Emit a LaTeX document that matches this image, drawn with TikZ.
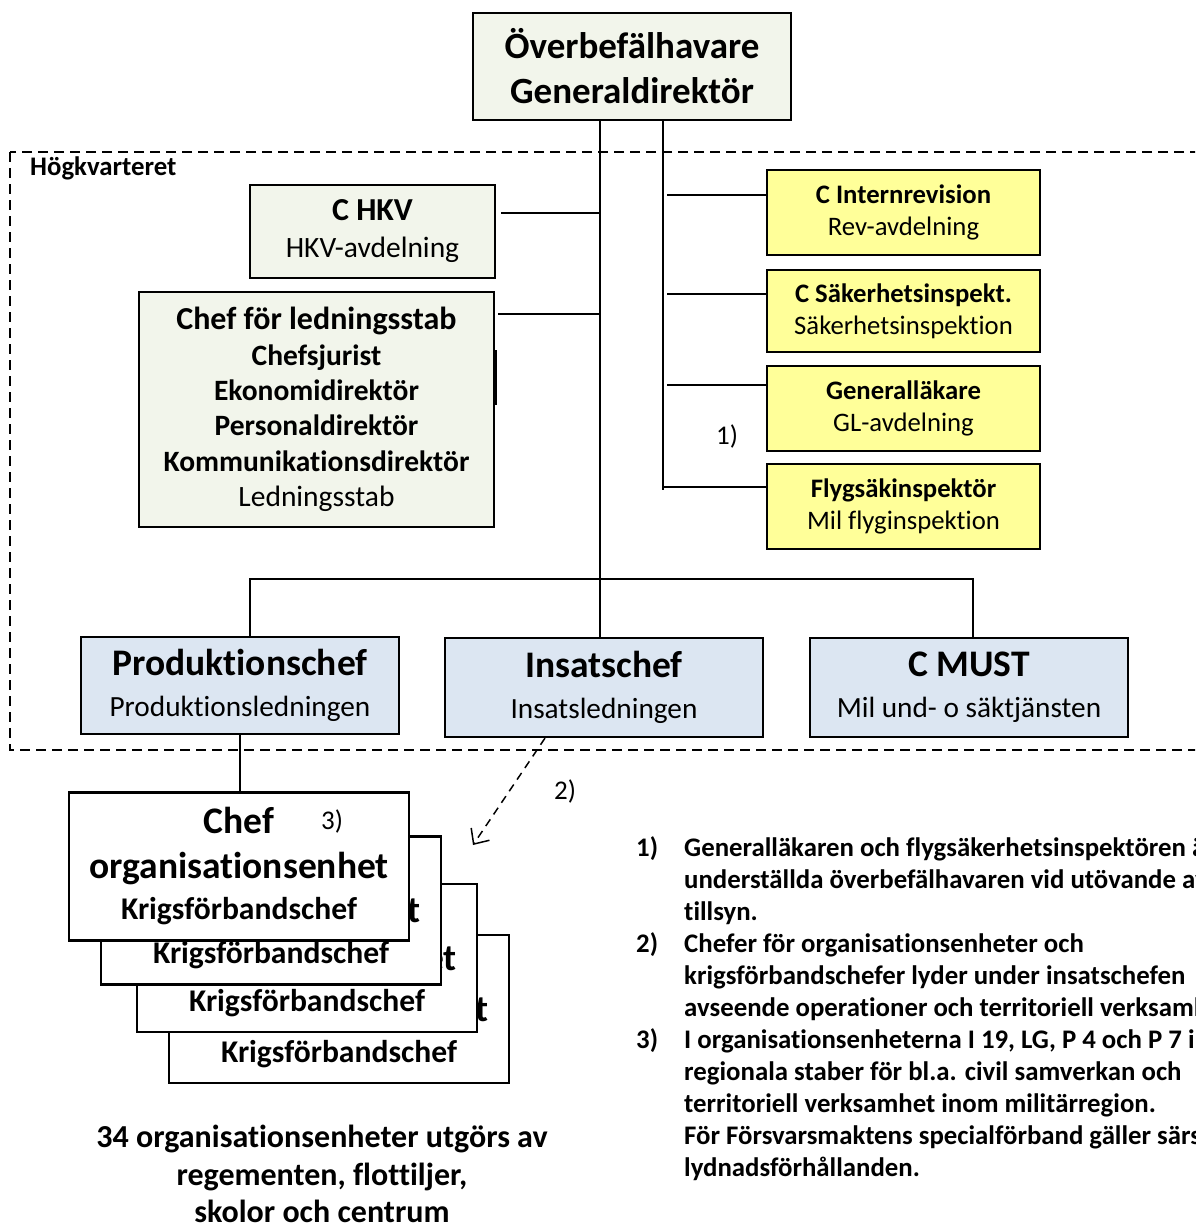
\documentclass[tikz,border=0pt]{standalone}
\usepackage{fontspec}
\setmainfont{Carlito}[Ligatures=NoCommon]
\usetikzlibrary{positioning, calc, arrows.meta}

\definecolor{hqgreen}{RGB}{242,245,235}
\definecolor{boxyellow}{RGB}{255,255,153}
\definecolor{boxblue}{RGB}{220,230,242}
\newcommand{\fsz}[2]{\fontsize{#1}{#2}\selectfont}

\tikzset{
  box/.style={draw, line width=2.2pt, align=center, inner sep=0pt},
  hqbox/.style={box, fill=hqgreen},
  ybox/.style={box, fill=boxyellow, minimum width=273pt, minimum height=85pt, font=\fsz{26.7}{32}},
  bbox/.style={box, fill=boxblue, minimum width=318pt, minimum height=99pt, font=\fsz{37.5}{41}},
  orgbox/.style={box, fill=white, minimum width=340pt, minimum height=148pt, font=\bfseries\fsz{37.5}{45}},
  conn/.style={line width=1.8pt},
  note/.style={font=\bfseries\fsz{26.8}{32}, align=left, inner sep=0pt, anchor=north west},
  fnmark/.style={font=\fsz{27}{30}},
}

\begin{document}
\begin{tikzpicture}[x=1pt,y=-1pt]
      \useasboundingbox (0,0) rectangle (1195,1224);
      \clip (0,0) rectangle (1195,1224);

      % Högkvarteret
      \draw[line width=2pt, dash pattern=on 10pt off 6pt] (10,152) rectangle (1215,750);
      \node[font=\bfseries\fsz{26.8}{30}, anchor=west, inner sep=0pt] (hkvlabel) at (30,168) {Högkvarteret};

      % boxar
      \node[hqbox, minimum width=318pt, minimum height=107pt, font=\bfseries\fsz{37}{45}] (obh) at (632,66.5) {Överbefälhavare\\Generaldirektör};
      \node[hqbox, minimum width=245pt, minimum height=93pt, font=\fsz{29.5}{37}] (chkv) at (372.5,231.5) {{\bfseries\fsz{32}{37}C HKV}\\HKV-avdelning};
      \node[hqbox, minimum width=355pt, minimum height=235pt, font=\fsz{29.5}{35.4}] (stab) at (316.5,409.5)
        {{\bfseries\fsz{32}{35.4}Chef för ledningsstab}\\{\bfseries Chefsjurist}\\{\bfseries Ekonomidirektör}\\{\bfseries Personaldirektör}\\{\bfseries Kommunikationsdirektör}\\Ledningsstab};

      \node[ybox] (irev) at (903.5,212.5) {{\bfseries C Internrevision}\\Rev-avdelning};
      \node[ybox, minimum height=82pt] (sak) at (903.5,311) {{\bfseries C Säkerhetsinspekt.}\\Säkerhetsinspektion};
      \node[ybox] (gl) at (903.5,408.5) {{\bfseries Generalläkare}\\GL-avdelning};
      \node[ybox] (flyg) at (903.5,506.5) {{\bfseries Flygsäkinspektör}\\Mil flyginspektion};

      \node[bbox, minimum height=97pt] (prod) at (240,685.5) {{\bfseries Produktionschef}\\{\fsz{29.3}{41}Produktionsledningen}};
      \node[bbox] (insats) at (604,687.5) {{\bfseries Insatschef}\\{\fsz{29.3}{41}Insatsledningen}};
      \node[bbox] (must) at (969,687.5) {{\bfseries C MUST}\\{\fsz{29.3}{41}Mil und- o säktjänsten}};

      % linjer
      \coordinate (hub) at (600,579);
      \coordinate (rtop) at ([xshift=31pt]obh.south);
      \coordinate (rbot) at (663,490);
      \draw[conn] (obh.south -| hub) -- (insats.north -| hub);
      \draw[conn] (rtop) -- (rbot);
      \draw[conn] ([xshift=5pt,yshift=18.5pt]chkv.east) -- ++(100,0);
      \draw[conn] ([xshift=3pt,yshift=95.5pt]stab.east) -- ++(103,0);
      \draw[line width=4pt] ([yshift=59.5pt]stab.east) -- ([yshift=4.5pt]stab.east);
      \draw[conn] ([yshift=17.5pt]irev.west) -- ++(-99,0);
      \draw[conn] ([yshift=17pt]sak.west) -- ++(-99,0);
      \draw[conn] ([yshift=23.5pt]gl.west) -- ++(-99,0);
      \draw[conn] ([yshift=19.5pt]flyg.west) -- ++(-104,0);
      \draw[conn] ([xshift=10pt]prod.north) |- (hub) -| ([xshift=4pt]must.north);
      \node[fnmark] (fn1) at (727,436) {1)};

      % organisationsenheter
      \node[orgbox] (org4) at (339,1009) {Chef\\organisationsenhet\\[-4pt]{\fsz{31.6}{41}Krigsförbandschef}};
      \node[orgbox] (org3) at (307,958) {Chef\\organisationsenhet\\[-4pt]{\fsz{31.6}{41}Krigsförbandschef}};
      \node[orgbox] (org2) at (271,910.5) {Chef\\organisationsenhet\\[-4pt]{\fsz{31.6}{41}Krigsförbandschef}};
      \node[orgbox] (org1) at (239,866.5) {Chef\\organisationsenhet\\[-4pt]{\fsz{31.6}{41}Krigsförbandschef}};
      \node[fnmark] (fn3) at (332,821) {3)};
      \draw[conn] (prod.south) -- (prod.south |- org1.north);

      \coordinate (arrowtip) at (473,845);
      \draw[line width=1.5pt, dash pattern=on 8pt off 6pt, -{Straight Barb[length=12pt,width=22pt]}] ([xshift=-59pt]insats.south) -- (arrowtip);
      \node[fnmark] (fn2) at (565,791) {2)};

      \node[font=\bfseries\fsz{32}{37.5}, align=center, inner sep=0pt, anchor=north] (caption) at (322,1125)
        {34 organisationsenheter utgörs av\\regementen, flottiljer,\\skolor och centrum};

      % fotnoter
      \node[note] (num1) at (636,836) {1)};
      \node[note] (note1) at (684,837) {Generalläkaren och flygsäkerhetsinspektören är\\underställda överbefälhavaren vid utövande av\\tillsyn.};
      \node[note] (num2) at (636,932) {2)};
      \node[note] (note2) at (684,933) {Chefer för organisationsenheter och\\krigsförbandschefer lyder under insatschefen\\avseende operationer och territoriell verksamhet.};
      \node[note] (num3) at (636,1028) {3)};
      \node[note] (note3) at (684,1029) {I organisationsenheterna I 19, LG, P 4 och P 7 i\\regionala staber för bl.a. civil samverkan och\\territoriell verksamhet inom militärregion.\\För Försvarsmaktens specialförband gäller särs\\lydnadsförhållanden.};
  \end{tikzpicture}
\end{document}
